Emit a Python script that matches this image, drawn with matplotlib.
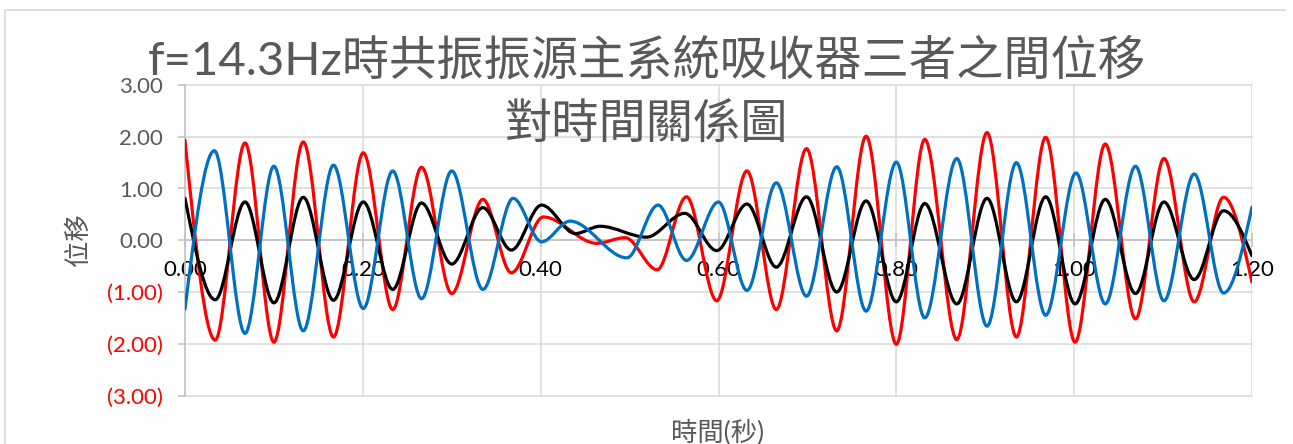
import matplotlib.pyplot as plt
from matplotlib.path import Path
from matplotlib.patches import PathPatch
from matplotlib.lines import Line2D

plt.rcParams['font.family'] = ['Lato', 'Noto Sans CJK TC', 'DejaVu Sans']

# peaks and troughs of each curve: time (s) and displacement
red_t = [0.000, 0.034, 0.0675, 0.100, 0.133, 0.167, 0.2005, 0.2336, 0.266, 0.300,
         0.335, 0.367, 0.403, 0.463, 0.495, 0.531, 0.564, 0.598, 0.632, 0.665,
         0.699, 0.733, 0.766, 0.800, 0.832, 0.868, 0.902, 0.935, 0.968, 1.001,
         1.035, 1.069, 1.101, 1.135, 1.168, 1.200]
red_v = [1.93, -1.93, 1.88, -1.97, 1.90, -1.87, 1.69, -1.34, 1.41, -1.03,
         0.79, -0.63, 0.45, -0.06, 0.05, -0.57, 0.84, -1.17, 1.34, -1.34,
         1.77, -1.75, 2.01, -2.01, 1.95, -1.92, 2.08, -1.87, 1.99, -1.97,
         1.86, -1.52, 1.58, -1.19, 0.83, -0.81]

black_t = [0.000, 0.034, 0.0675, 0.100, 0.133, 0.167, 0.2005, 0.2336, 0.266, 0.300,
           0.335, 0.367, 0.401, 0.439, 0.467, 0.519, 0.562, 0.598, 0.632, 0.665,
           0.699, 0.733, 0.766, 0.800, 0.832, 0.868, 0.902, 0.935, 0.968, 1.001,
           1.035, 1.069, 1.101, 1.135, 1.168, 1.200]
black_v = [0.81, -1.15, 0.74, -1.21, 0.83, -1.16, 0.74, -0.95, 0.72, -0.46,
           0.63, -0.19, 0.68, 0.13, 0.27, 0.06, 0.52, -0.20, 0.70, -0.52,
           0.84, -1.00, 0.76, -1.19, 0.71, -1.23, 0.81, -1.19, 0.84, -1.23,
           0.79, -1.03, 0.74, -0.76, 0.57, -0.30]

blue_t = [0.000, 0.033, 0.0675, 0.100, 0.133, 0.167, 0.2005, 0.2336, 0.266, 0.300,
          0.335, 0.369, 0.401, 0.433, 0.497, 0.532, 0.564, 0.600, 0.632, 0.665,
          0.699, 0.733, 0.766, 0.800, 0.832, 0.868, 0.902, 0.935, 0.968, 1.002,
          1.035, 1.069, 1.101, 1.135, 1.168, 1.200]
blue_v = [-1.33, 1.73, -1.80, 1.43, -1.75, 1.45, -1.32, 1.34, -1.13, 1.34,
          -0.95, 0.81, -0.03, 0.37, -0.34, 0.68, -0.39, 0.74, -0.97, 1.11,
          -1.08, 1.42, -1.37, 1.51, -1.50, 1.58, -1.66, 1.50, -1.45, 1.30,
          -1.23, 1.43, -1.17, 1.28, -1.02, 0.64]

x_ticks = [0.0, 0.2, 0.4, 0.6, 0.8, 1.0, 1.2]
y_ticks = [-3, -2, -1, 0, 1, 2, 3]

title_1 = 'f=14.3Hz時共振振源主系統吸收器三者之間位移'
title_2 = '對時間關係圖'
x_title = '時間(秒)'
y_title = '位移'

W, H = 1293, 444
GREY = '#595959'


def smooth_path(ts, vs):
    # Bezier curve through the extrema: flat tangent at every inner point,
    # free (zero curvature) ends
    n = len(ts)
    slopes = [0.0] * n
    slopes[0] = 1.5 * (vs[1] - vs[0]) / (ts[1] - ts[0])
    slopes[-1] = 1.5 * (vs[-1] - vs[-2]) / (ts[-1] - ts[-2])
    verts = [(ts[0], vs[0])]
    codes = [Path.MOVETO]
    for i in range(n - 1):
        h = (ts[i + 1] - ts[i]) / 3
        verts += [(ts[i] + h, vs[i] + slopes[i] * h),
                  (ts[i + 1] - h, vs[i + 1] - slopes[i + 1] * h),
                  (ts[i + 1], vs[i + 1])]
        codes += [Path.CURVE4] * 3
    return Path(verts, codes)


fig = plt.figure(figsize=(W / 100, H / 100), dpi=100)
ax = fig.add_axes([185 / W, 1 - 395.5 / H, (1252 - 185) / W, (395.5 - 85) / H])

ax.set_xlim(0, 1.2)
ax.set_ylim(-3, 3)

ax.set_xticks(x_ticks, labels=[f'{v:.2f}' for v in x_ticks])
ax.set_yticks(y_ticks, labels=[f'{v:.2f}' if v >= 0 else f'({-v:.2f})' for v in y_ticks])
for lbl, v in zip(ax.get_yticklabels(), y_ticks):
    lbl.set_color(GREY if v >= 0 else '#FF0000')
for lbl in ax.get_xticklabels():
    lbl.set_color(GREY)

ax.grid(True, color='#D9D9D9', lw=1.1, zorder=0)
for line in ax.get_xgridlines() + ax.get_ygridlines():
    line.set_clip_on(False)
ax.set_axisbelow(True)

for side in ['top', 'right']:
    ax.spines[side].set_visible(False)
ax.spines['bottom'].set_position(('data', 0))
for side in ['left', 'bottom']:
    ax.spines[side].set_color('#BFBFBF')
    ax.spines[side].set_linewidth(1.1)

ax.tick_params(axis='y', direction='out', length=5, width=1.1, color='#BFBFBF',
               labelsize=16, pad=11)
ax.tick_params(axis='x', direction='inout', length=10, width=1.1, color='#BFBFBF',
               labelsize=16, pad=9)

for ts, vs, color in [(red_t, red_v, '#FF0000'),
                      (black_t, black_v, '#000000'),
                      (blue_t, blue_v, '#0070C0')]:
    ax.add_patch(PathPatch(smooth_path(ts, vs), fill=False, edgecolor=color,
                           lw=2.3, capstyle='round', joinstyle='round', zorder=3))

fig.text(0.5, 1 - 60 / H, title_1, ha='center', va='center', fontsize=34, color=GREY)
fig.text(0.5, 1 - 125 / H, title_2, ha='center', va='center', fontsize=34, color=GREY)
fig.text(78 / W, 1 - 240 / H, y_title, rotation=90, ha='center', va='center',
         fontsize=19, color=GREY)
fig.text(718 / W, 1 - 433 / H, x_title, ha='center', va='center', fontsize=19, color=GREY)

# chart frame: top and left edges
fig.add_artist(Line2D([5 / W, 5 / W, 1285 / W], [0, 1 - 10 / H, 1 - 10 / H],
                      transform=fig.transFigure, color='#D9D9D9', lw=1.2))

fig.savefig('out.png', dpi=100)
